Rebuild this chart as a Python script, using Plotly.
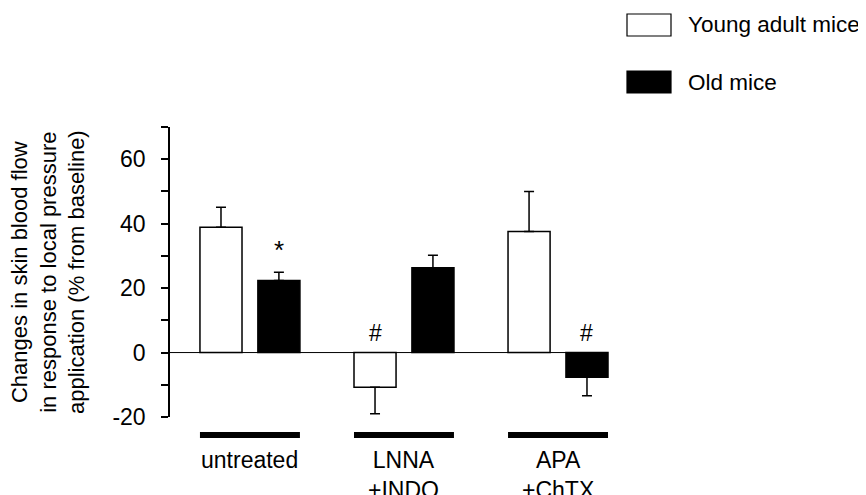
import plotly.graph_objects as go

# ---- data ----
groups = ["untreated", "LNNA<br>+INDO", "APA<br>+ChTX"]
young_vals = [38.9, -10.8, 37.6]
young_err = [6.2, 8.2, 12.4]
old_vals = [22.4, 26.3, -7.7]
old_err = [2.5, 3.9, 5.7]
series_names = ["Young adult mice", "Old mice"]
y_tickvals = [-20, 0, 20, 40, 60]
y_minor = [-10, 10, 30, 50, 70]
old_marks = ["*", "", "#"]
young_marks = ["", "#", ""]

# ---- layout geometry (page pixels; the page body has an 8px margin) ----
OFF_PX = 8
W, H = 866 - OFF_PX, 495 - OFF_PX
PL, PR, PT, PB = 170, 666, 127, 417  # plot area in page pixels
L, T = PL - OFF_PX, PT - OFF_PX
R, B = W - (PR - OFF_PX), H - (PB - OFF_PX)
XR = [-0.519, 2.701]
YR = [-20, 70]
BAR_W = 0.273
OFF = 0.188
FONT = "Liberation Sans, Arial, Helvetica, sans-serif"
FS = 23

plot_w = PR - PL
plot_h = PB - PT


def px_x(px):
    return (px - PL) / plot_w


def px_y(py):
    return (PB - py) / plot_h


def xdata_to_paper(x):
    return (x - XR[0]) / (XR[1] - XR[0])


idx = list(range(len(groups)))
xy = [i - OFF for i in idx]
xo = [i + OFF for i in idx]


def err_dict(vals, errs):
    up = [e if v >= 0 else 0 for v, e in zip(vals, errs)]
    dn = [e if v < 0 else 0 for v, e in zip(vals, errs)]
    return dict(type="data", symmetric=False, array=up, arrayminus=dn,
                color="black", thickness=1.5, width=5)


fig = go.Figure()
fig.add_trace(go.Bar(x=xy, y=young_vals, width=BAR_W, name=series_names[0],
                     marker=dict(color="white", line=dict(color="black", width=1.5)),
                     error_y=err_dict(young_vals, young_err), showlegend=False))
fig.add_trace(go.Bar(x=xo, y=old_vals, width=BAR_W, name=series_names[1],
                     marker=dict(color="black", line=dict(color="black", width=1.5)),
                     error_y=err_dict(old_vals, old_err), showlegend=False))

shapes = []
# zero line
shapes.append(dict(type="line", xref="x", yref="y", x0=XR[0], x1=xo[-1] + BAR_W / 2,
                   y0=0, y1=0, line=dict(color="black", width=1), layer="below"))
# group underline bars
for i in idx:
    shapes.append(dict(type="line", xref="paper", yref="paper",
                       x0=xdata_to_paper(i - OFF - BAR_W / 2),
                       x1=xdata_to_paper(i + OFF + BAR_W / 2),
                       y0=px_y(435), y1=px_y(435),
                       line=dict(color="black", width=6)))
# legend boxes
shapes.append(dict(type="rect", xref="paper", yref="paper",
                   x0=px_x(627), x1=px_x(671), y0=px_y(36), y1=px_y(14),
                   fillcolor="white", line=dict(color="black", width=1.2)))
shapes.append(dict(type="rect", xref="paper", yref="paper",
                   x0=px_x(627), x1=px_x(671), y0=px_y(93), y1=px_y(71),
                   fillcolor="black", line=dict(color="black", width=1.2)))

ann = []
for i, g in enumerate(groups):
    ann.append(dict(x=i, y=px_y(445), xref="x", yref="paper", text=g,
                    showarrow=False, xanchor="center", yanchor="top",
                    font=dict(size=FS, color="black", family=FONT)))
for i in idx:
    if old_marks[i]:
        top = old_vals[i] + old_err[i] if old_vals[i] >= 0 else 0
        ann.append(dict(x=xo[i], y=top + (7 if old_marks[i] == "*" else 6), xref="x", yref="y",
                        text=old_marks[i], showarrow=False, yanchor="middle",
                        font=dict(size=FS + (3 if old_marks[i] == "*" else 0),
                                  color="black", family=FONT)))
    if young_marks[i]:
        top = young_vals[i] + young_err[i] if young_vals[i] >= 0 else 0
        ann.append(dict(x=xy[i], y=top + 6, xref="x", yref="y",
                        text=young_marks[i], showarrow=False, yanchor="middle",
                        font=dict(size=FS, color="black", family=FONT)))
# legend text
ann.append(dict(x=px_x(686), y=px_y(25), xref="paper", yref="paper", text=series_names[0],
                showarrow=False, xanchor="left", yanchor="middle",
                font=dict(size=FS - 0.5, color="black", family=FONT)))
ann.append(dict(x=px_x(686), y=px_y(82), xref="paper", yref="paper", text=series_names[1],
                showarrow=False, xanchor="left", yanchor="middle",
                font=dict(size=FS - 0.5, color="black", family=FONT)))
# y-axis title
ann.append(dict(x=px_x(48), y=25, xref="paper", yref="y",
                text="Changes in skin blood flow<br>in response to local pressure<br>application (% from baseline)",
                showarrow=False, textangle=-90, xanchor="center", yanchor="middle",
                font=dict(size=FS - 1, color="black", family=FONT)))

fig.update_layout(
    width=W, height=H,
    margin=dict(l=L, r=R, t=T, b=B, pad=0),
    paper_bgcolor="white", plot_bgcolor="white",
    barmode="overlay",
    font=dict(family=FONT, size=FS, color="black"),
    shapes=shapes, annotations=ann,
    xaxis=dict(range=XR, showgrid=False, zeroline=False, showline=False,
               showticklabels=False, ticks="", automargin=False),
    yaxis=dict(range=YR, showgrid=False, zeroline=False, showline=True,
               linecolor="black", linewidth=1.5, automargin=False,
               ticks="outside", ticklen=7, tickwidth=1.5, tickcolor="black",
               tickvals=y_tickvals, ticktext=[str(v) for v in y_tickvals],
               ticklabelstandoff=11,
               tickfont=dict(size=FS, family=FONT, color="black"),
               minor=dict(tickvals=y_minor, ticks="outside", ticklen=7,
                          tickwidth=1.5, tickcolor="black")),
)

fig.write_html("out.html")
